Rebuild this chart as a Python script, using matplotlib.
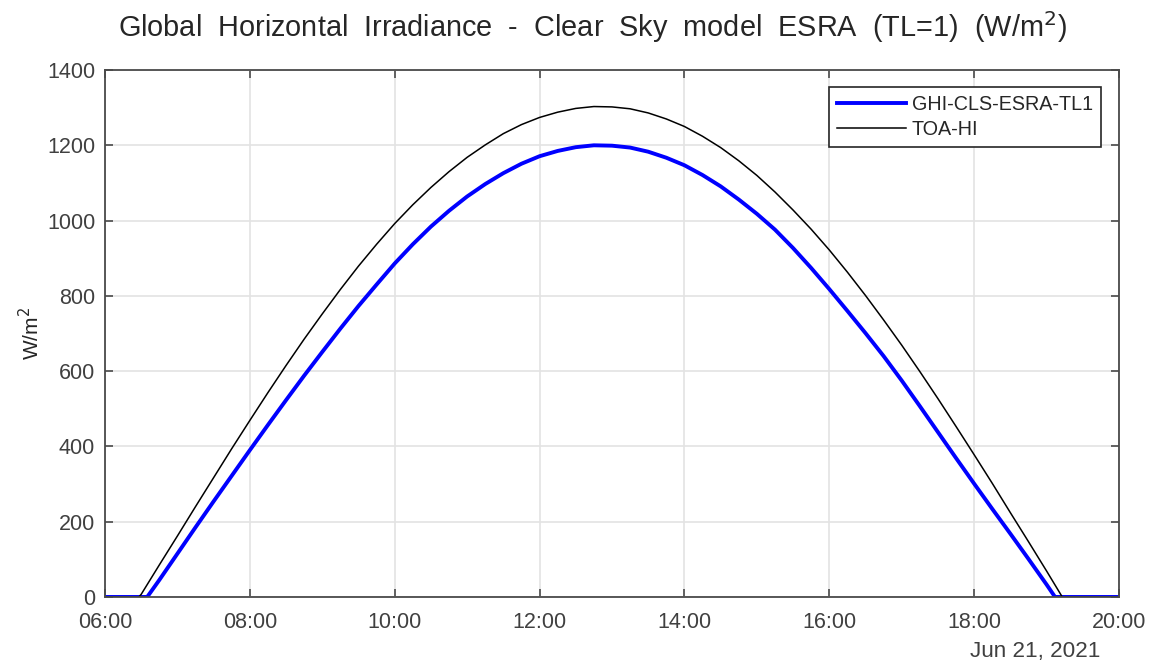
import numpy as np
import pandas as pd
import matplotlib
matplotlib.use("Agg")
import matplotlib.pyplot as plt
import matplotlib.dates as mdates

plt.rcParams['font.family'] = ['Liberation Sans', 'DejaVu Sans']

# Times (Jun 21, 2021) and values
toa_times = ['06:00', '06:28', '06:30', '06:45', '07:00', '07:15', '07:30', '07:45',
             '08:00', '08:15', '08:30', '08:45', '09:00', '09:15', '09:30', '09:45',
             '10:00', '10:15', '10:30', '10:45', '11:00', '11:15', '11:30', '11:45',
             '12:00', '12:15', '12:30', '12:45', '13:00', '13:15', '13:30', '13:45',
             '14:00', '14:15', '14:30', '14:45', '15:00', '15:15', '15:30', '15:45',
             '16:00', '16:15', '16:30', '16:45', '17:00', '17:15', '17:30', '17:45',
             '18:00', '18:15', '18:30', '18:45', '19:00', '19:13', '19:30', '20:00']
toa_hi = [0, 0, 7, 85, 162, 240, 317, 394,
          469, 543, 615, 685, 752, 817, 879, 937,
          992, 1042, 1088, 1130, 1168, 1201, 1231, 1255,
          1274, 1288, 1298, 1303, 1302, 1297, 1286, 1270,
          1250, 1224, 1194, 1159, 1120, 1076, 1028, 977,
          922, 863, 801, 736, 669, 599, 527, 453,
          378, 302, 224, 147, 69, 0, 0, 0]

ghi_times = ['06:00', '06:35', '06:45', '07:00', '07:15', '07:30', '07:45',
             '08:00', '08:15', '08:30', '08:45', '09:00', '09:15', '09:30', '09:45',
             '10:00', '10:15', '10:30', '10:45', '11:00', '11:15', '11:30', '11:45',
             '12:00', '12:15', '12:30', '12:45', '13:00', '13:15', '13:30', '13:45',
             '14:00', '14:15', '14:30', '14:45', '15:00', '15:15', '15:30', '15:45',
             '16:00', '16:15', '16:30', '16:45', '17:00', '17:15', '17:30', '17:45',
             '18:00', '18:15', '18:30', '18:45', '19:00', '19:07', '19:30', '20:00']
ghi = [0, 0, 45, 115, 185, 254, 322,
       390, 457, 523, 588, 651, 713, 773, 830,
       886, 937, 984, 1026, 1064, 1097, 1126, 1151,
       1171, 1185, 1195, 1200, 1199, 1194, 1183, 1167,
       1147, 1121, 1091, 1056, 1018, 976, 927, 874,
       818, 760, 701, 640, 575, 507, 438, 369,
       301, 234, 168, 101, 33, 0, 0, 0]

day = '2021-06-21 '
t_toa = pd.to_datetime([day + s for s in toa_times])
t_ghi = pd.to_datetime([day + s for s in ghi_times])

fig = plt.figure(figsize=(11.56, 6.65), dpi=100)
ax = fig.add_axes([0.0908, 0.1023, 0.8772, 0.7924])

ax.plot(t_ghi, ghi, color='#0000ff', linewidth=2.8, label='GHI-CLS-ESRA-TL1')
ax.plot(t_toa, toa_hi, color='black', linewidth=1.1, label='TOA-HI')

ax.set_xlim(pd.Timestamp(day + '06:00'), pd.Timestamp(day + '20:00'))
ax.set_ylim(0, 1400)
ax.set_yticks(range(0, 1401, 200))
ax.xaxis.set_major_locator(mdates.HourLocator(byhour=range(6, 21, 2)))
ax.xaxis.set_major_formatter(mdates.DateFormatter('%H:%M'))

ax.grid(True, color='#e3e3e3', linewidth=1.2)
ax.set_axisbelow(True)
for s in ax.spines.values():
    s.set_color('#4a4a4a')
    s.set_linewidth(1.3)
ax.tick_params(direction='in', length=6, width=1.2, color='#4a4a4a',
               labelsize=15.5, labelcolor='#404040', top=True, right=True)
ax.tick_params(axis='y', pad=7)
ax.tick_params(axis='x', pad=11)

ax.set_ylabel('W/m$^2$', fontsize=15, color='#262626', labelpad=3)
ax.set_title('Global  Horizontal  Irradiance  -  Clear  Sky  model  ESRA  (TL=1)  (W/m$^2$)',
             fontsize=20.8, color='#262626', pad=24, x=0.481)
# date label under the time axis
fig.text(0.9516, 0.004, 'Jun 21, 2021', ha='right', va='bottom', fontsize=16.2, color='#404040')

leg = ax.legend(loc='upper right', bbox_to_anchor=(0.982, 0.968), borderaxespad=0,
                fontsize=14.2, fancybox=False, framealpha=1, edgecolor='#262626',
                handlelength=3.5, borderpad=0.4, labelspacing=0.3, handletextpad=0.3)
leg.get_frame().set_linewidth(1.2)
for t in leg.get_texts():
    t.set_color('#262626')

fig.savefig('out.png', dpi=100)
